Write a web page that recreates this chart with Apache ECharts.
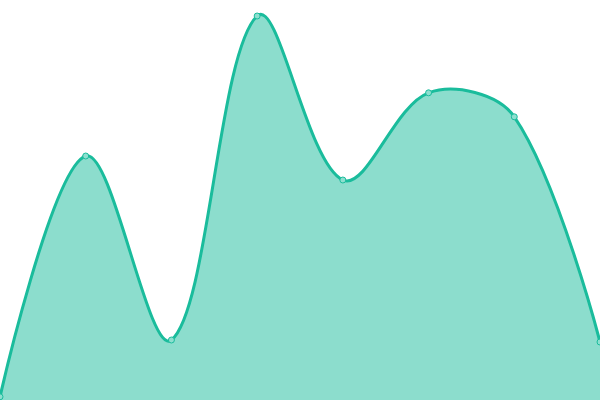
<!DOCTYPE html>
<html><head><meta charset="utf-8">
<script src="https://cdn.jsdelivr.net/npm/echarts@6/dist/echarts.min.js"></script>
<style>html,body{margin:0;padding:0;background:#fff}#c{width:600px;height:400px}</style>
</head><body><div id="c"></div>
<script>
const categories = ['A','B','C','D','E','F','G','H'];
const values = [0.8, 61, 15, 96, 55, 76.8, 70.8, 14.5];
const SMOOTH = 0.35;

function controlPoints(pts, s) {
  const n = pts.length;
  return pts.map((p, i) => {
    if (i === 0 || i === n - 1) return { cin: p.slice(), cout: p.slice() };
    const prev = pts[i - 1], next = pts[i + 1];
    const vx = (next[0] - prev[0]) * s, vy = (next[1] - prev[1]) * s;
    const d0 = Math.hypot(p[0] - prev[0], p[1] - prev[1]);
    const d1 = Math.hypot(p[0] - next[0], p[1] - next[1]);
    const sum = d0 + d1 || 1;
    return {
      cin: [p[0] - vx * d0 / sum, p[1] - vy * d0 / sum],
      cout: [p[0] + vx * d1 / sum, p[1] + vy * d1 / sum]
    };
  });
}

function renderItem(params, api) {
  const i = params.dataIndex;
  const pt = api.coord([i, values[i]]);
  const children = [];
  if (i === 0) {
    const pts = values.map((v, k) => api.coord([k, v]));
    const cps = controlPoints(pts, SMOOTH);
    let d = 'M' + pts[0][0] + ' ' + pts[0][1];
    for (let k = 1; k < pts.length; k++) {
      d += ' C' + cps[k - 1].cout[0] + ' ' + cps[k - 1].cout[1] + ' ' +
           cps[k].cin[0] + ' ' + cps[k].cin[1] + ' ' + pts[k][0] + ' ' + pts[k][1];
    }
    const base0 = api.coord([0, 0]), baseN = api.coord([pts.length - 1, 0]);
    const area = d + ' L' + baseN[0] + ' ' + baseN[1] + ' L' + base0[0] + ' ' + base0[1] + ' Z';
    children.push({ type: 'path', shape: { pathData: area }, style: { fill: 'rgba(26,188,156,0.5)', stroke: null } });
    children.push({ type: 'path', shape: { pathData: d }, style: { fill: null, stroke: '#1abc9c', lineWidth: 3 } });
  }
  children.push({ type: 'circle', shape: { cx: pt[0], cy: pt[1], r: 3 }, style: { fill: '#8ddfcf', stroke: '#1abc9c', lineWidth: 1 } });
  return { type: 'group', children };
}

const chart = echarts.init(document.getElementById('c'));
chart.setOption({
  animation: false,
  grid: {left: 0, right: 0, top: 0, bottom: 0},
  xAxis: {type: 'category', data: categories, boundaryGap: false, show: false},
  yAxis: {type: 'value', min: 0, max: 100, show: false},
  series: [{
    type: 'custom', renderItem: renderItem, clip: false,
    data: values.map((v, i) => [i, v]),
    encode: {x: 0, y: 1}
  }]
});
</script></body></html>
